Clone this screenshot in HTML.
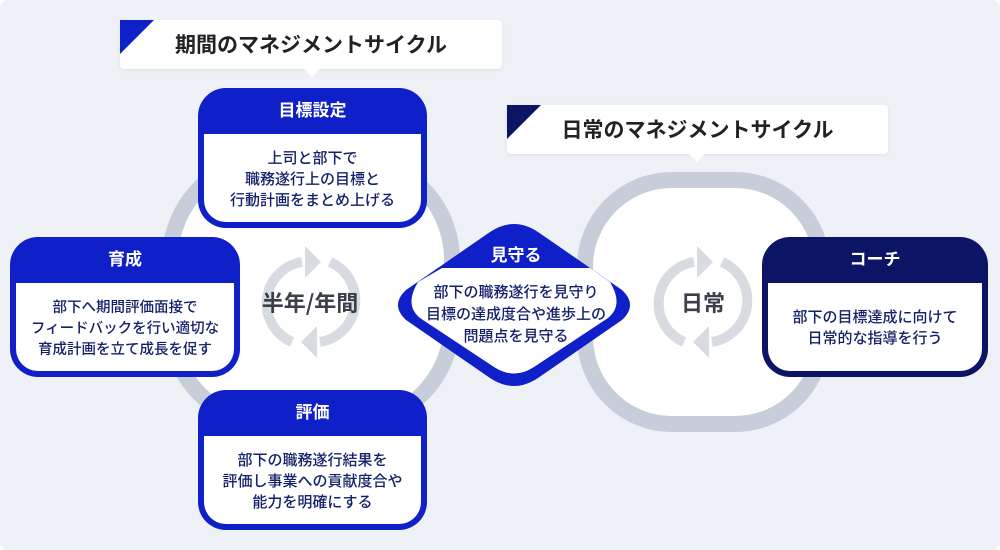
<!DOCTYPE html>
<html><head><meta charset="utf-8"><style>
*{margin:0;padding:0;box-sizing:border-box}
body{width:1000px;height:550px;background:#fff;font-family:"Liberation Sans","Noto Sans CJK JP",sans-serif;position:relative;overflow:hidden}
.bg{position:absolute;left:0;top:0;width:1000px;height:550px;background:#eef1f6;border-radius:8px}
.ring{position:absolute;border:16px solid #c7cdd9;background:#fff;border-radius:110px}
.lbl{position:absolute;background:#fff;border-radius:4px;box-shadow:0 1px 3px rgba(0,0,0,.08);font-weight:bold;font-size:21px;color:#222;text-align:center;line-height:49px;height:49px;font-family:"Noto Sans CJK JP",sans-serif}
.lbl .tri{position:absolute;left:0;top:0;width:0;height:0;border-top:34px solid;border-right:34px solid transparent}
.lbl .ptr{position:absolute;bottom:-8px;width:0;height:0;border-left:8px solid transparent;border-right:8px solid transparent;border-top:8px solid #fff}
.box{position:absolute;background:#1020c8;border-radius:28px;padding:0 6px 6px}
.box h3{color:#fff;font-size:17px;text-align:center;height:46px;line-height:42px;font-weight:bold;font-family:"Noto Sans CJK JP",sans-serif}
.box .in{background:#fff;border-radius:0 0 22px 22px;color:#14206a;font-size:15px;font-weight:500;font-family:"Noto Sans CJK JP",sans-serif;text-align:center;line-height:21px;display:flex;align-items:center;justify-content:center;white-space:nowrap}
.ct{position:absolute;font-weight:bold;font-size:22px;color:#3b3f4a;text-align:center;font-family:"Noto Sans CJK JP",sans-serif}
</style></head><body>
<div class="bg"></div>
<div class="ring" style="left:162px;top:150px;width:298px;height:282px"></div>
<div class="ring" style="left:577px;top:172px;width:253px;height:260px;border-radius:95px"></div>

<svg style="position:absolute;left:0;top:0" width="1000" height="550">
 <g fill="none" stroke="#d8dbe1" stroke-width="10">
  <path d="M302 262 A42 42 0 0 0 292 342"/>
  <path d="M320 342 A42 42 0 0 0 330 262"/>
  <path d="M694 262 A42 42 0 0 0 684 342"/>
  <path d="M712 342 A42 42 0 0 0 722 262"/>
 </g>
 <g fill="#d8dbe1">
  <polygon points="305,246 321,262 305,278"/>
  <polygon points="317,326 301,342 317,358"/>
  <polygon points="697,246 713,262 697,278"/>
  <polygon points="709,326 693,342 709,358"/>
 </g>
 <path d="M490 232 Q514 216 538 232 L622 290 Q638 305 622 320 L538 378 Q514 394 490 378 L406 320 Q390 305 406 290 Z" fill="#1020c8"/>
 <path d="M442 268 L590 268 L610 282 Q624 305 608 318 L534 367 Q514 380 494 367 L420 318 Q404 305 418 282 Z" fill="#fff"/>
</svg>

<div class="ct" style="left:250px;top:286px;width:120px">半年/年間</div>
<div class="ct" style="left:670px;top:286px;width:66px">日常</div>

<div class="lbl" style="left:120px;top:20px;width:382px"><div class="tri" style="border-top-color:#1020c8"></div>期間のマネジメントサイクル<div class="ptr" style="left:184px"></div></div>
<div class="lbl" style="left:507px;top:105px;width:381px"><div class="tri" style="border-top-color:#0c1466"></div>日常のマネジメントサイクル<div class="ptr" style="left:182px"></div></div>

<div class="box" style="left:198px;top:88px;width:229px;height:140px"><h3>目標設定</h3><div class="in" style="height:88px">上司と部下で<br>職務遂行上の目標と<br>行動計画をまとめ上げる</div></div>
<div class="box" style="left:10px;top:237px;width:230px;height:140px"><h3>育成</h3><div class="in" style="height:88px;font-size:14.5px">部下へ期間評価面接で<br>フィードバックを行い適切な<br>育成計画を立て成長を促す</div></div>
<div class="box" style="left:198px;top:390px;width:229px;height:140px"><h3>評価</h3><div class="in" style="height:88px">部下の職務遂行結果を<br>評価し事業への貢献度合や<br>能力を明確にする</div></div>
<div class="box" style="left:762px;top:237px;width:226px;height:140px;background:#0c1466"><h3>コーチ</h3><div class="in" style="height:88px">部下の目標達成に向けて<br>日常的な指導を行う</div></div>

<div style="position:absolute;left:440px;top:241px;width:152px;text-align:center;color:#fff;font-weight:bold;font-size:17px;font-family:'Noto Sans CJK JP',sans-serif">見守る</div>
<div style="position:absolute;left:400px;top:281px;width:232px;text-align:center;color:#14206a;font-size:15px;font-weight:500;line-height:22px;font-family:'Noto Sans CJK JP',sans-serif;white-space:nowrap">部下の職務遂行を見守り<br>目標の達成度合や進歩上の<br>問題点を見守る</div>
</body></html>
